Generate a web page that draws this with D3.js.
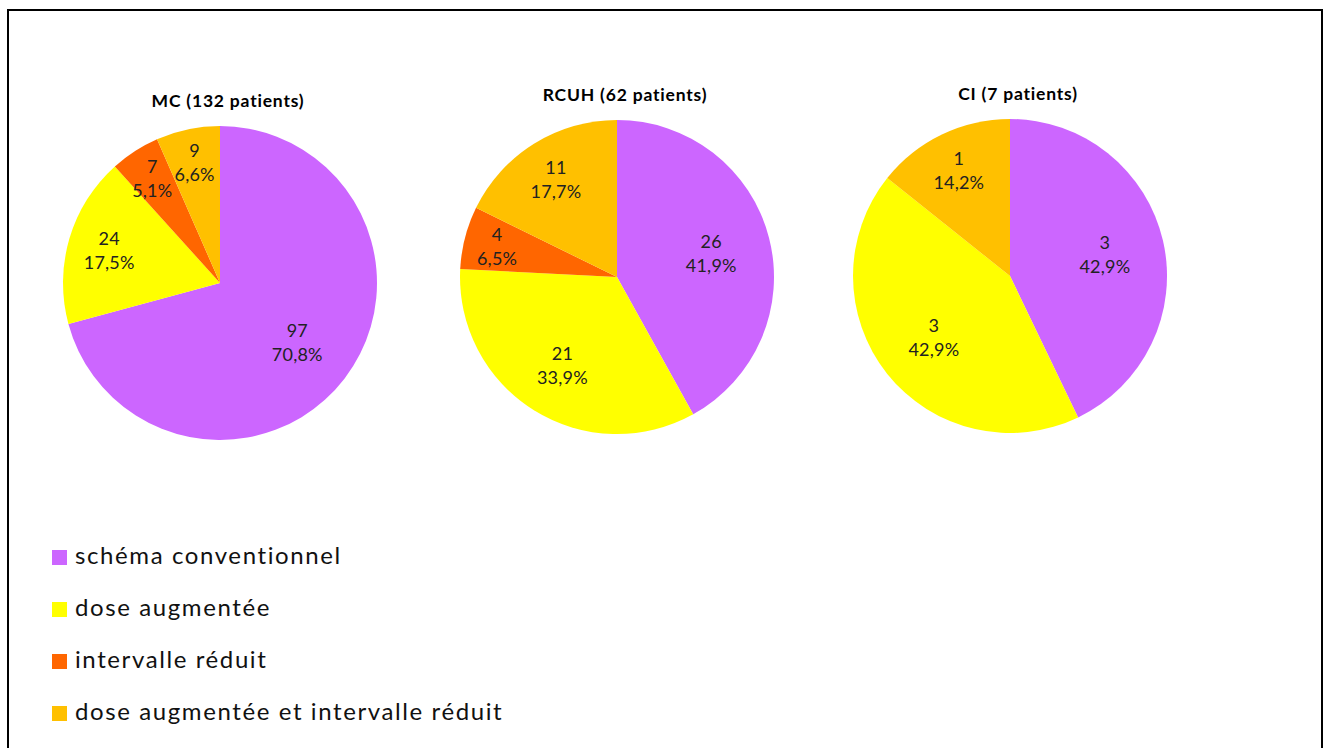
<!DOCTYPE html>
<html>
<head>
<meta charset="utf-8">
<script src="https://cdn.jsdelivr.net/npm/d3@7"></script>
<style>
  html, body { margin: 0; padding: 0; background: #fff; }
  svg { display: block; }
</style>
</head>
<body>
<svg id="chart" width="1324" height="748"></svg>
<script>
// ---- Data ----
const categories = ["schéma conventionnel", "dose augmentée", "intervalle réduit", "dose augmentée et intervalle réduit"];
const colors = ["#CC66FF", "#FFFF00", "#FF6600", "#FFC000"];
const pieTitles = ["MC (132 patients)", "RCUH (62 patients)", "CI (7 patients)"];
const mcValues = [97, 24, 7, 9];
const mcPercents = ["70,8%", "17,5%", "5,1%", "6,6%"];
const rcuhValues = [26, 21, 4, 11];
const rcuhPercents = ["41,9%", "33,9%", "6,5%", "17,7%"];
const ciValues = [3, 3, 0, 1];
const ciPercents = ["42,9%", "42,9%", "0,0%", "14,2%"];

// ---- Layout ----
const svg = d3.select("#chart");
const W = 1324, H = 748;
svg.append("rect").attr("x", 0).attr("y", 0).attr("width", W).attr("height", H).attr("fill", "#fff");
svg.append("rect").attr("x", 8).attr("y", 10).attr("width", 1314).attr("height", 800)
  .attr("fill", "none").attr("stroke", "#000").attr("stroke-width", 2);

const pies = [
  { title: pieTitles[0], values: mcValues, percents: mcPercents, cx: 220, cy: 283 },
  { title: pieTitles[1], values: rcuhValues, percents: rcuhPercents, cx: 617, cy: 277 },
  { title: pieTitles[2], values: ciValues, percents: ciPercents, cx: 1010, cy: 276 }
];
const R = 157;
const color = d3.scaleOrdinal().domain(categories).range(colors);
const pieGen = d3.pie().sort(null).value(d => d.value);
const arcGen = d3.arc().innerRadius(0).outerRadius(R);
const FONT = "Lato, 'Open Sans', sans-serif";

pies.forEach(p => {
  const g = svg.append("g").attr("transform", `translate(${p.cx},${p.cy})`);
  const rows = categories.map((c, i) => ({ cat: c, value: p.values[i], pct: p.percents[i] }));
  const arcs = pieGen(rows);
  g.selectAll("path").data(arcs).join("path")
    .attr("d", arcGen)
    .attr("fill", d => color(d.data.cat));

  const lab = g.selectAll("g.lab").data(arcs.filter(d => d.data.value > 0)).join("g").attr("class", "lab")
    .attr("transform", d => {
      const mid = (d.startAngle + d.endAngle) / 2;
      const span = (d.endAngle - d.startAngle) * 180 / Math.PI;
      const frac = 0.62 + 0.2 * (1 - Math.min(span, 150) / 150);
      return `translate(${Math.sin(mid) * R * frac},${-Math.cos(mid) * R * frac})`;
    });
  lab.append("text").attr("text-anchor", "middle").attr("y", -5)
    .attr("font-family", FONT).attr("font-size", 18)
    .attr("letter-spacing", 0.2).attr("fill", "#222")
    .text(d => d.data.value);
  lab.append("text").attr("text-anchor", "middle").attr("y", 19)
    .attr("font-family", FONT).attr("font-size", 18)
    .attr("letter-spacing", 0.2).attr("fill", "#222")
    .text(d => d.data.pct);

  svg.append("text").attr("x", p.cx + 8).attr("y", p.cy - 176)
    .attr("text-anchor", "middle")
    .attr("font-family", FONT).attr("font-weight", "bold")
    .attr("font-size", 17.5).attr("letter-spacing", 0.8)
    .attr("fill", "#000")
    .text(p.title);
});

// ---- Legend ----
const legend = svg.append("g");
const leg = legend.selectAll("g").data(categories).join("g")
  .attr("transform", (d, i) => `translate(52,${550 + i * 52})`);
leg.append("rect").attr("width", 15).attr("height", 15).attr("fill", d => color(d));
leg.append("text").attr("x", 23).attr("y", 14)
  .attr("font-family", FONT).attr("font-size", 24)
  .attr("letter-spacing", 1.6).attr("fill", "#111")
  .text(d => d);
</script>
</body>
</html>
